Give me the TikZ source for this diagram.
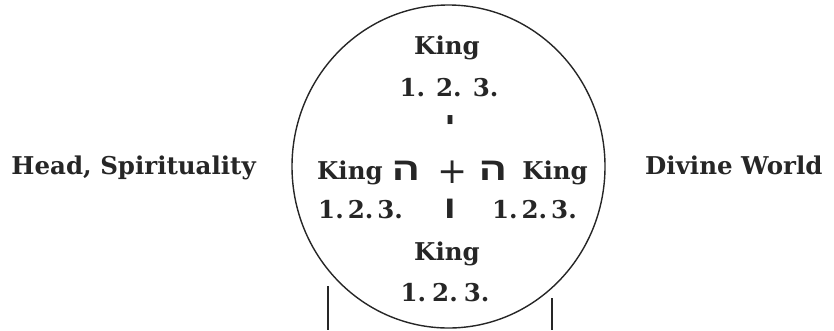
\documentclass[tikz,border=0pt]{standalone}
\usepackage{fontspec}
\usetikzlibrary{shapes.geometric}
\setmainfont{DejaVu Serif}
\newfontfamily\hebfont[Script=Hebrew, FakeStretch=1.3]{Liberation Sans}
\TeXXeTstate=1
\begin{document}
\begin{tikzpicture}[x=1pt,y=-1pt,
  lbl/.style={font=\fontsize{24.5}{27}\selectfont\bfseries, text=black!85, inner sep=0pt, anchor=base},
  heb/.style={font=\fontsize{32}{34}\selectfont\bfseries\hebfont, text=black!85, inner sep=0pt, anchor=base},
  rim/.style={draw=black!85, line width=1.4pt}]
\useasboundingbox (0,0) rectangle (834,330);
% circle
\node[rim, ellipse, minimum width=313pt, minimum height=323pt, inner sep=0pt] (world) at (448.5,166.5) {};
% side labels
\node[lbl, anchor=base east] (head) at (256,174) {Head, Spirituality};
\node[lbl, anchor=base west] (divine) at (645,174) {Divine World};
% top
\node[lbl] (kingT) at (447,54) {King};
\node[lbl] (numT) at (449,96) {1.\hspace{11pt}2.\hspace{11pt}3.};
\node[heb, font=\fontsize{28}{30}\selectfont\bfseries\hebfont, anchor=center] (yod) at (450,124) {\beginR י\endR};
% middle row
\node[lbl, anchor=base west] (kingL) at (317,179) {King};
\node[heb] (heL) at (406,180) {\beginR ה\endR};
\node[lbl, font=\fontsize{36}{38}\selectfont] (plus) at (453,183) {+};
\node[heb] (heR) at (493,180) {\beginR ה\endR};
\node[lbl, anchor=base east] (kingR) at (588,179) {King};
% second row
\node[lbl, anchor=base west] (numL) at (318,218) {1.\hspace{4pt}2.\hspace{4pt}3.};
\node[heb] (vav) at (450,218) {\beginR ו\endR};
\node[lbl, anchor=base east] (numR) at (577,218) {1.\hspace{4pt}2.\hspace{4pt}3.};
% bottom
\node[lbl] (kingB) at (447,260) {King};
\node[lbl] (numB) at (445,301) {1.\hspace{6pt}2.\hspace{6pt}3.};
% vertical lines below the circle
\coordinate (lt) at (328,286);
\coordinate (lb) at (328,330);
\coordinate (rt) at (552,298);
\coordinate (rb) at (552,330);
\draw[black!85, line width=1.4pt] (lt) -- (lb);
\draw[black!85, line width=1.4pt] (rt) -- (rb);
\end{tikzpicture}
\end{document}
